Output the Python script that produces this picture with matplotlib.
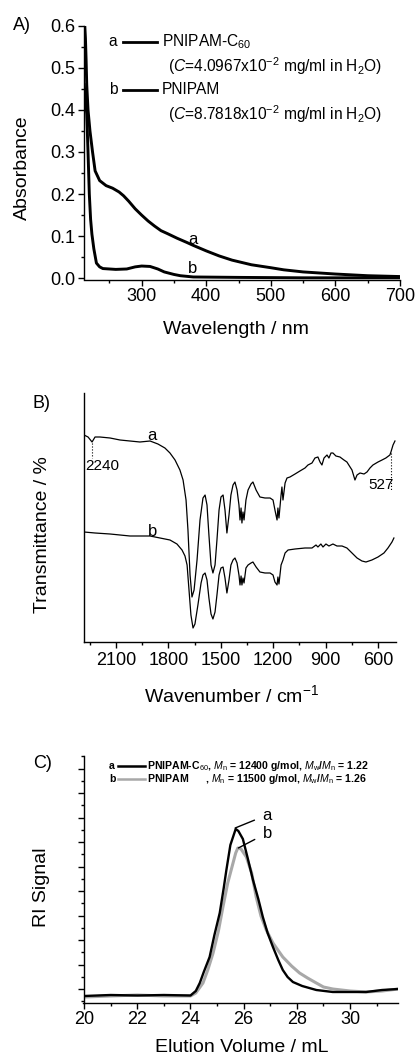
import numpy as np
import matplotlib
matplotlib.use("Agg")
import matplotlib.pyplot as plt
from matplotlib.ticker import MultipleLocator, NullFormatter

plt.rcParams['font.family'] = ['Liberation Sans', 'DejaVu Sans']
plt.rcParams['mathtext.fontset'] = 'custom'
plt.rcParams['mathtext.rm'] = 'Liberation Sans'
plt.rcParams['mathtext.it'] = 'Liberation Sans:italic'
plt.rcParams['mathtext.bf'] = 'Liberation Sans:bold'
plt.rcParams['axes.linewidth'] = 1.0

# ---- A) UV-vis absorbance
uv_wl_a = [210, 211, 212, 213, 214, 215, 217, 220, 224, 228, 235, 245, 255, 265, 272, 280, 290,
           300, 310, 320, 330, 340, 355, 370, 380, 400, 420, 440, 470, 500, 520, 550, 600, 650, 700]
uv_abs_a = [0.64, 0.61, 0.60, 0.57, 0.52, 0.46, 0.40, 0.35, 0.30, 0.255, 0.232, 0.22, 0.214, 0.205,
            0.196, 0.183, 0.165, 0.15, 0.136, 0.124, 0.113, 0.106, 0.095, 0.085, 0.078, 0.065, 0.053,
            0.043, 0.032, 0.025, 0.020, 0.015, 0.010, 0.006, 0.004]
uv_wl_b = [211, 213, 215, 217, 219, 221, 223, 226, 230, 235, 240, 260, 277, 290, 300, 313, 325,
           335, 350, 360, 380, 450, 550, 700]
uv_abs_b = [0.46, 0.43, 0.39, 0.30, 0.20, 0.14, 0.105, 0.07, 0.036, 0.027, 0.023, 0.021, 0.022,
            0.027, 0.029, 0.028, 0.022, 0.015, 0.009, 0.006, 0.003, 0.002, 0.001, 0.001]

# ---- B) FTIR (offset transmittance, arbitrary units)
ir_wn_a = [2283, 2260, 2237, 2220, 2192, 2134, 2077, 2020, 1963, 1905, 1860, 1820, 1791, 1762, 1734,
           1716, 1699, 1688, 1676, 1665, 1653, 1636, 1619, 1602, 1590, 1579, 1568, 1556, 1545, 1533,
           1522, 1510, 1499, 1487, 1476, 1465, 1453, 1442, 1430, 1419, 1407, 1396, 1390, 1384, 1379,
           1373, 1367, 1356, 1344, 1327, 1316, 1298, 1276, 1247, 1218, 1201, 1190, 1178, 1173, 1167,
           1155, 1150, 1144, 1132, 1121, 1104, 1075, 1047, 1018, 1001, 978, 961, 944, 932, 921, 909,
           892, 881, 869, 858, 841, 818, 795, 778, 760, 749, 732, 720, 703, 680, 663, 646, 629, 600,
           577, 555, 532, 526, 514, 503]
ir_t_a = [207, 205, 200, 205, 205, 204, 202, 201, 200, 201, 198, 194, 189, 182, 172, 162, 142, 112,
          67, 45, 52, 82, 122, 144, 147, 137, 107, 77, 69, 77, 102, 132, 145, 147, 132, 109, 127, 147,
          157, 160, 152, 137, 122, 134, 119, 130, 122, 142, 152, 158, 160, 152, 145, 144, 144, 142,
          132, 122, 134, 124, 147, 155, 142, 159, 164, 165, 168, 171, 174, 177, 179, 184, 185, 180,
          177, 184, 187, 184, 189, 189, 186, 185, 182, 180, 175, 172, 162, 167, 169, 168, 170, 174,
          177, 180, 182, 184, 187, 190, 197, 201]
ir_wn_b = [2283, 2220, 2134, 2020, 1905, 1848, 1791, 1751, 1722, 1705, 1693, 1682, 1671, 1659, 1648,
           1631, 1613, 1602, 1590, 1579, 1568, 1556, 1545, 1533, 1522, 1510, 1499, 1487, 1476, 1465,
           1453, 1442, 1430, 1419, 1407, 1396, 1390, 1384, 1379, 1373, 1367, 1356, 1344, 1327, 1316,
           1298, 1276, 1247, 1218, 1201, 1190, 1178, 1173, 1167, 1155, 1144, 1132, 1115, 1075, 1018,
           978, 955, 944, 927, 915, 898, 881, 858, 835, 806, 778, 749, 720, 692, 669, 635, 600, 566,
           543, 520, 509]
ir_t_b = [110, 109, 108, 106, 106, 104, 102, 98, 92, 86, 77, 52, 27, 14, 18, 37, 59, 67, 69, 62, 44,
          28, 23, 30, 47, 67, 74, 75, 64, 49, 62, 77, 82, 84, 79, 67, 57, 66, 57, 64, 59, 74, 77, 79,
          80, 75, 70, 69, 69, 67, 60, 57, 65, 58, 77, 82, 89, 92, 93, 94, 94, 97, 95, 98, 95, 98, 96,
          98, 96, 96, 94, 89, 84, 81, 80, 82, 85, 89, 94, 100, 104]

# ---- C) GPC traces (RI signal, arbitrary units)
gpc_v_a = [20.0, 21.0, 22.0, 23.0, 24.0, 24.2, 24.35, 24.5, 24.72, 24.9, 25.1, 25.25, 25.35, 25.5,
           25.6, 25.7, 25.8, 25.97, 26.15, 26.35, 26.55, 26.72, 26.9, 27.1, 27.3, 27.47, 27.65,
           27.85, 28.2, 28.73, 29.35, 30.0, 30.6, 31.2, 31.8]
gpc_s_a = [7, 8, 7.5, 8, 7.5, 12, 20, 31, 46, 68, 90, 115, 133, 158, 166, 174, 172, 164, 145, 123,
           104, 86, 70, 56, 43, 33, 26, 21, 17, 13, 11, 11, 11, 13, 14]
gpc_v_b = [20.0, 21.0, 22.0, 23.0, 24.0, 24.2, 24.47, 24.65, 24.85, 25.05, 25.22, 25.4, 25.6, 25.7,
           25.78, 25.9, 26.1, 26.3, 26.47, 26.65, 26.85, 27.1, 27.47, 27.8, 28.1, 28.4, 28.73, 29.0,
           29.35, 30.0, 30.6, 31.2, 31.8]
gpc_s_b = [6, 7, 8, 7, 7, 10, 20, 33, 50, 72, 96, 120, 140, 150, 155, 154, 146, 130, 106, 87, 73,
           60, 46, 37, 30, 25, 20, 16, 14, 12, 11, 12, 14]

uv_legend = ["PNIPAM-C$_{60}$", "($C$=4.0967x10$^{-2}$ mg/ml in H$_2$O)",
             "PNIPAM", "($C$=8.7818x10$^{-2}$ mg/ml in H$_2$O)"]
gpc_legend = ["PNIPAM-C$_{60}$, $M_\\mathrm{n}$ = 12400 g/mol, $M_\\mathrm{w}$/$M_\\mathrm{n}$ = 1.22",
              "PNIPAM      , $M_\\mathrm{n}$ = 11500 g/mol, $M_\\mathrm{w}$/$M_\\mathrm{n}$ = 1.26"]

W, H = 417, 1057
fig = plt.figure(figsize=(W / 100, H / 100), dpi=100)


def box(l, r, t, b):
    return [l / W, 1 - b / H, (r - l) / W, (b - t) / H]


tick_fs = 13
lab_fs = 14

# ---------------- A
axA = fig.add_axes(box(83.5, 400, 25.7, 279.5))
axA.plot(uv_wl_a, uv_abs_a, color='black', lw=2.1)
axA.plot(uv_wl_b, uv_abs_b, color='black', lw=2.1)
axA.set_xlim(210, 700)
axA.set_ylim(-0.003, 0.6)
axA.spines['top'].set_visible(False)
axA.spines['right'].set_visible(False)
axA.xaxis.set_minor_locator(MultipleLocator(50))
axA.yaxis.set_major_locator(MultipleLocator(0.1))
axA.yaxis.set_minor_locator(MultipleLocator(0.05))
axA.set_xticks([300, 400, 500, 600, 700])
axA.tick_params(which='major', length=4, width=1, labelsize=tick_fs, pad=2)
axA.tick_params(which='minor', length=2.5, width=1)
axA.set_xlabel("Wavelength / nm", fontsize=lab_fs)
axA.set_ylabel("Absorbance", fontsize=lab_fs)
axA.xaxis.set_label_coords(0.482, -0.165)
axA.yaxis.set_label_coords(-0.165, 0.44)
axA.text(379, 0.093, "a", fontsize=12, ha='center', va='center')
axA.text(379, 0.024, "b", fontsize=12, ha='center', va='center')
# legend
for k, yy in enumerate([0.936, 0.747]):
    axA.text(0.093, yy, "ab"[k], transform=axA.transAxes, fontsize=11.2, ha='center', va='center')
    axA.plot([0.125, 0.232], [yy, yy], transform=axA.transAxes, color='black', lw=2)
    axA.text(0.248, yy, uv_legend[2 * k], transform=axA.transAxes, fontsize=11.2, va='center')
    axA.text(0.267, yy - 0.095, uv_legend[2 * k + 1], transform=axA.transAxes, fontsize=11.2,
             va='center')

# ---------------- B
axB = fig.add_axes(box(83.5, 396, 393, 642))
axB.plot(ir_wn_a, ir_t_a, color='black', lw=0.9)
axB.plot(ir_wn_b, ir_t_b, color='black', lw=0.9)
axB.set_xlim(2286, 497)
axB.set_ylim(0, 249)
axB.spines['top'].set_visible(False)
axB.spines['right'].set_visible(False)
axB.set_xticks([2100, 1800, 1500, 1200, 900, 600])
axB.xaxis.set_minor_locator(MultipleLocator(150))
axB.set_yticks([])
axB.tick_params(which='major', length=4, width=1, labelsize=tick_fs, pad=3)
axB.tick_params(which='minor', length=2.5, width=1)
axB.set_xlabel("Wavenumber / cm$^{-1}$", fontsize=lab_fs)
axB.set_ylabel("Transmittance / %", fontsize=lab_fs)
axB.xaxis.set_label_coords(0.475, -0.17)
axB.yaxis.set_label_coords(-0.105, 0.43)
axB.text(1894, 207, "a", fontsize=12, ha='center', va='center')
axB.text(1888, 110, "b", fontsize=12, ha='center', va='center')
axB.plot([2240, 2240], [199, 184], color='black', lw=0.8, ls=':')
axB.text(2278, 176, "2240", fontsize=11, ha='left', va='center')
axB.plot([527, 527], [189, 152], color='black', lw=0.8, ls=':')
axB.text(583, 157, "527", fontsize=11, ha='center', va='center')

# ---------------- C
axC = fig.add_axes(box(83.5, 398, 756, 1003))
axC.plot(gpc_v_b, gpc_s_b, color='#a8a8a8', lw=2.2)
axC.plot(gpc_v_a, gpc_s_a, color='black', lw=1.7)
axC.set_xlim(19.98, 31.8)
axC.set_ylim(0, 247)
axC.spines['top'].set_visible(False)
axC.spines['right'].set_visible(False)
axC.xaxis.set_major_locator(MultipleLocator(2))
axC.xaxis.set_minor_locator(MultipleLocator(1))
axC.set_yticks(np.arange(14, 247, 24.5))
axC.set_yticks(np.arange(1.75, 248, 24.5), minor=True)
axC.yaxis.set_major_formatter(NullFormatter())
axC.tick_params(which='major', length=4, width=1, labelsize=tick_fs, pad=2)
axC.tick_params(which='minor', length=2.5, width=1)
axC.set_xlabel("Elution Volume / mL", fontsize=lab_fs)
axC.set_ylabel("RI Signal", fontsize=lab_fs)
axC.xaxis.set_label_coords(0.502, -0.145)
axC.yaxis.set_label_coords(-0.105, 0.47)
axC.annotate("a", xy=(25.68, 175), xytext=(26.88, 188), fontsize=12, ha='center', va='center',
             arrowprops=dict(arrowstyle='-', color='black', lw=1, shrinkA=4, shrinkB=0))
axC.annotate("b", xy=(25.8, 155), xytext=(26.88, 170), fontsize=12, ha='center', va='center',
             arrowprops=dict(arrowstyle='-', color='black', lw=1, shrinkA=4, shrinkB=0))
for k, (yy, col) in enumerate([(0.960, 'black'), (0.907, '#a8a8a8')]):
    axC.text(0.091, yy, "ab"[k], transform=axC.transAxes, fontsize=7.6, fontweight='bold',
             ha='center', va='center')
    axC.plot([0.110, 0.196], [yy, yy], transform=axC.transAxes, color=col, lw=1.8)
    axC.text(0.202, yy, gpc_legend[k], transform=axC.transAxes, fontsize=7.6, fontweight='bold',
             va='center')

fig.text(13 / W, 1 - 25 / H, "A)", fontsize=13, va='center')
fig.text(33 / W, 1 - 403 / H, "B)", fontsize=13, va='center')
fig.text(33 / W, 1 - 763 / H, "C)", fontsize=13, va='center')

fig.savefig("out.png", dpi=100)
